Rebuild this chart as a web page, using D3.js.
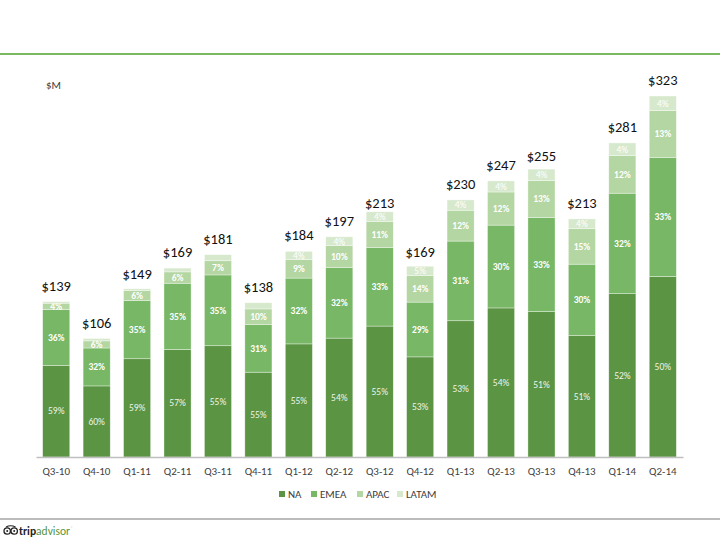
<!DOCTYPE html>
<html>
<head>
<meta charset="utf-8">
<script src="https://cdn.jsdelivr.net/npm/d3@7"></script>
<style>
  html, body { margin: 0; padding: 0; background: #fff; }
  svg { display: block; font-family: Carlito, Lato, "Open Sans", sans-serif; }
</style>
</head>
<body>
<svg id="chart" width="720" height="540"></svg>
<script>
const categories = ["Q3-10","Q4-10","Q1-11","Q2-11","Q3-11","Q4-11","Q1-12","Q2-12","Q3-12","Q4-12","Q1-13","Q2-13","Q3-13","Q4-13","Q1-14","Q2-14"];
const totals = [139,106,149,169,181,138,184,197,213,169,230,247,255,213,281,323];
const naPct    = [59,60,59,57,55,55,55,54,55,53,53,54,51,51,52,50];
const emeaPct  = [36,32,35,35,35,31,32,32,33,29,31,30,33,30,32,33];
const apacPct  = [4,6,6,6,7,10,9,10,11,14,12,12,13,15,12,13];
const latamPct = [1,2,1,2,3,4,4,4,4,5,4,4,4,4,4,4];
const seriesNames = ["NA","EMEA","APAC","LATAM"];
const colors = ["#5b9443","#78b765","#b4d6a2","#d7e9cd"];
const labelColors = ["#eef5ea","#ffffff","#ffffff","#ffffff"];
const labelWeights = ["normal","bold","bold","normal"];

const pctSeries = [naPct, emeaPct, apacPct, latamPct];
const svg = d3.select("#chart");

// header line
svg.append("line").attr("x1",0).attr("x2",720).attr("y1",54).attr("y2",54)
  .attr("stroke","#7ab862").attr("stroke-width",2);
// footer line
svg.append("line").attr("x1",0).attr("x2",720).attr("y1",519).attr("y2",519)
  .attr("stroke","#a6a6a6").attr("stroke-width",1.5);

const x = d3.scaleBand().domain(categories).range([36, 683]).paddingInner(0.33).paddingOuter(0.165);
const y = d3.scaleLinear().domain([0, 323]).range([457, 96]);

const rows = categories.map((c, i) => {
  const r = {cat: c, total: totals[i]};
  seriesNames.forEach((s, k) => { r[s] = totals[i] * pctSeries[k][i] / 100; r[s + "_p"] = pctSeries[k][i]; });
  return r;
});
const stack = d3.stack().keys(seriesNames)(rows);

const g = svg.append("g");
stack.forEach((layer, k) => {
  const lg = g.append("g");
  lg.selectAll("rect").data(layer).join("rect")
    .attr("x", d => x(d.data.cat))
    .attr("width", x.bandwidth())
    .attr("y", d => y(d[1]))
    .attr("height", d => y(d[0]) - y(d[1]))
    .attr("fill", colors[k])
    .attr("stroke", "#ffffff").attr("stroke-width", 0.6).attr("stroke-opacity", 0.6);
  const shown = layer.filter(d => k < 3 || (y(d[0]) - y(d[1])) >= 7);
  lg.selectAll("text").data(shown).join("text")
    .attr("x", d => x(d.data.cat) + x.bandwidth() / 2)
    .attr("y", d => (y(d[0]) + y(d[1])) / 2)
    .attr("dy", "0.35em")
    .attr("text-anchor", "middle")
    .attr("font-size", 9.5)
    .attr("font-weight", labelWeights[k])
    .attr("fill", labelColors[k])
    .text(d => d.data[seriesNames[k] + "_p"] + "%");
});

// total labels
g.selectAll("text.total").data(rows).join("text").attr("class","total")
  .attr("x", d => x(d.cat) + x.bandwidth() / 2)
  .attr("y", d => y(d.total) - 11)
  .attr("text-anchor", "middle")
  .attr("font-size", 14.5)
  .attr("fill", "#111")
  .text(d => "$" + d.total);

// axis
const axis = svg.append("g").attr("transform", "translate(0,457)")
  .call(d3.axisBottom(x).tickSize(0).tickPadding(10));
axis.select(".domain").attr("stroke", "#bfbfbf").attr("stroke-width", 1.5);
axis.selectAll("text").attr("font-size", 11).attr("fill", "#404040")
  .attr("font-family", "Carlito, Lato, 'Open Sans', sans-serif");

// unit label
svg.append("text").attr("x", 46).attr("y", 89).attr("font-size", 11).attr("fill", "#404040").text("$M");

// legend
const legendX = [279, 311, 357, 397];
const leg = svg.append("g");
seriesNames.forEach((s, k) => {
  leg.append("rect").attr("x", legendX[k]).attr("y", 491).attr("width", 6).attr("height", 6).attr("fill", colors[k]);
  leg.append("text").attr("x", legendX[k] + 9).attr("y", 498).attr("font-size", 11).attr("fill", "#404040").text(s);
});

// tripadvisor logo
const logo = svg.append("g").attr("transform", "translate(4,531)");
[3.2, 10.2].forEach(cx => {
  logo.append("circle").attr("cx", cx).attr("cy", 0).attr("r", 3.2).attr("fill", "none").attr("stroke", "#222").attr("stroke-width", 1.3);
  logo.append("circle").attr("cx", cx).attr("cy", 0).attr("r", 1).attr("fill", "#222");
});
logo.append("path").attr("d", "M2,-4 Q6.7,-6.5 11.5,-4").attr("fill", "none").attr("stroke", "#222").attr("stroke-width", 1.1);
const lt = logo.append("text").attr("x", 15).attr("y", 4).attr("font-size", 11.5).attr("font-weight", "bold");
lt.append("tspan").attr("fill", "#222").text("trip");
lt.append("tspan").attr("fill", "#589442").attr("font-weight", "normal").text("advisor");
logo.append("text").attr("x", 67).attr("y", -2).attr("font-size", 3).attr("fill", "#888").text("®");
</script>
</body>
</html>
